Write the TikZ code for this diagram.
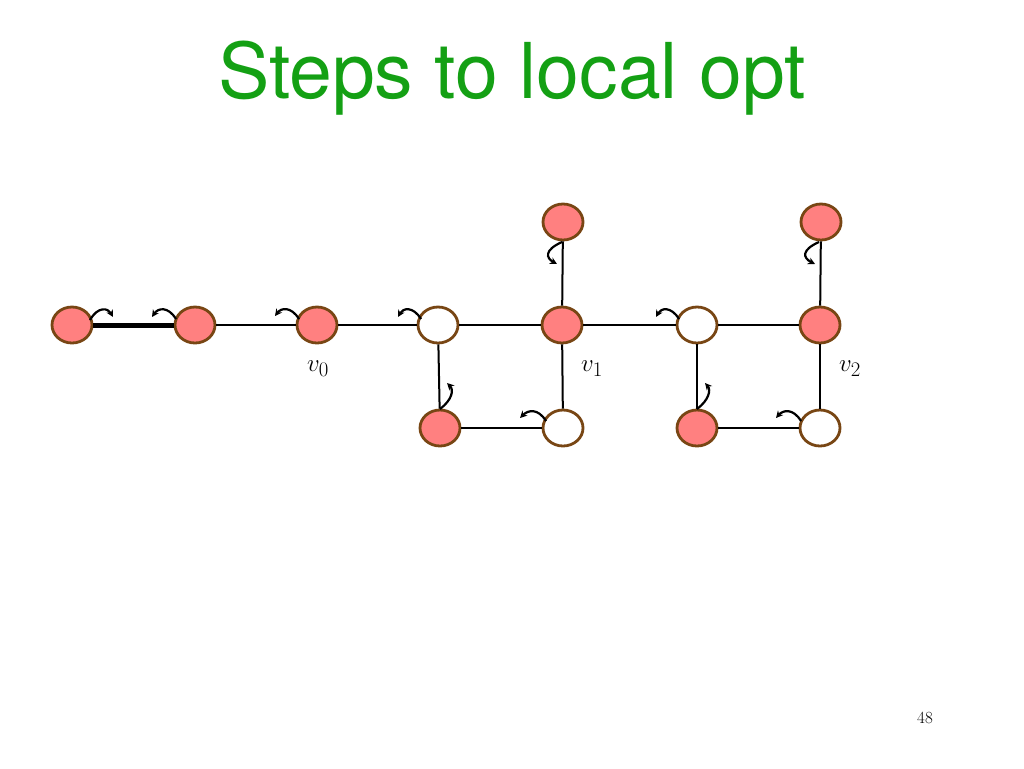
\documentclass[tikz,border=0pt]{standalone}
\usepackage{fontspec}
\newfontfamily\headfont{TeX Gyre Heros}
\usetikzlibrary{arrows.meta}
\usetikzlibrary{shapes.geometric}
\definecolor{salmon}{RGB}{255,128,128}
\definecolor{rim}{RGB}{120,70,20}
\definecolor{titlegreen}{RGB}{20,160,20}
\tikzset{
  full/.style={ellipse, draw=rim, line width=2.8pt, fill=salmon, minimum width=40pt, minimum height=36pt, inner sep=0pt},
  empty/.style={full, fill=white},
  edge/.style={line width=2pt},
  flip/.style={-{Stealth[length=7pt,width=7pt]}, line width=2.2pt},
  lbl/.style={font=\fontsize{32}{32}\selectfont}
}
\begin{document}
\begin{tikzpicture}[x=1pt, y=-1pt]
  \useasboundingbox (0,0) rectangle (1024,768);
  \node[text=titlegreen, font=\headfont\fontsize{77}{77}\selectfont] (title) at (512,78) {Steps to local opt};
  \node[font=\fontsize{17}{17}\selectfont] (page) at (925,718) {48};

  % vertices
  \node[full]  (a)  at (72,325)  {};
  \node[full]  (b)  at (195,325) {};
  \node[full]  (v0) at (317,325) {};
  \node[empty] (w1) at (438,325) {};
  \node[full]  (v1) at (562,325) {};
  \node[empty] (w2) at (697,325) {};
  \node[full]  (v2) at (820,325) {};
  \node[full]  (t1) at (563,222) {};
  \node[full]  (t2) at (821,222) {};
  \node[full]  (p1) at (440,428) {};
  \node[empty] (q1) at (563,428) {};
  \node[full]  (p2) at (697,428) {};
  \node[empty] (q2) at (820,428) {};

  % edges
  \draw[line width=5pt] (a) -- (b);
  \draw[edge] (b) -- (v0);
  \draw[edge] (v0) -- (w1);
  \draw[edge] (w1) -- (v1);
  \draw[edge] (v1) -- (w2);
  \draw[edge] (w2) -- (v2);
  \draw[edge] (v1) -- (t1);
  \draw[edge] (v2) -- (t2);
  \draw[edge] (w1) -- (p1);
  \draw[edge] (p1) -- (q1);
  \draw[edge] (q1) -- (v1);
  \draw[edge] (w2) -- (p2);
  \draw[edge] (p2) -- (q2);
  \draw[edge] (q2) -- (v2);

  % labels
  \node[lbl] (l0) at (318,369) {$v_0$};
  \node[lbl] (l1) at (592,369) {$v_1$};
  \node[lbl] (l2) at (850,369) {$v_2$};

  % local moves
  \draw[flip] (90,320) .. controls (98,306) and (108,308) .. (113,317);
  \draw[flip] (176,319) .. controls (168,306) and (158,308) .. (152,317);
  \draw[flip] (299,319) .. controls (291,306) and (281,308) .. (275,316);
  \draw[flip] (421,319) .. controls (413,306) and (403,308) .. (398,317);
  \draw[flip] (440,409) .. controls (452,400) and (454,390) .. (447,383);
  \draw[flip] (546,421) .. controls (538,408) and (528,410) .. (520,418);
  \draw[flip] (562,242) .. controls (544,250) and (546,258) .. (557,264);
  \draw[flip] (679,319) .. controls (671,306) and (661,308) .. (656,317);
  \draw[flip] (697,409) .. controls (709,400) and (711,390) .. (705,383);
  \draw[flip] (801,421) .. controls (793,408) and (783,410) .. (776,418);
  \draw[flip] (819,242) .. controls (801,250) and (803,258) .. (815,264);
\end{tikzpicture}
\end{document}
